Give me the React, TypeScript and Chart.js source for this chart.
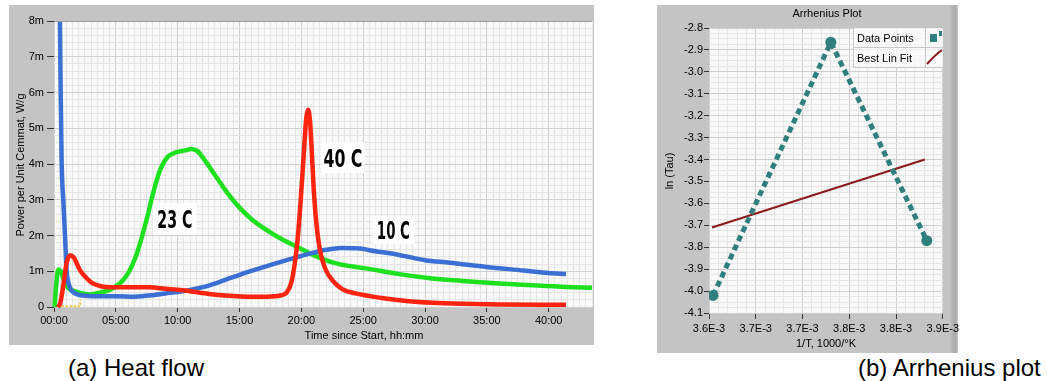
import React, { useEffect, useRef } from "react";
import { Chart, registerables } from "chart.js";
Chart.register(...registerables);

const FONT = '"Liberation Sans", Arial, sans-serif';

// ---------- (a) Heat flow ----------
const tenC_hours = [0.45, 0.48, 0.54, 0.62, 0.75, 0.89, 1.02, 1.15, 1.35, 1.7, 2.3, 3.5, 5.0, 6.5, 8.0, 9.0, 10.0, 11.0, 12.5, 14.0, 15.0, 17.0, 19.0, 20.0, 21.0, 22.0, 23.2, 24.5, 26.0, 28.0, 30.0, 32.0, 35.0, 38.0, 40.0, 41.4];
const tenC_power = [9.5, 8.0, 6.0, 4.0, 3.0, 2.0, 1.0, 0.7, 0.5, 0.38, 0.32, 0.3, 0.3, 0.29, 0.33, 0.38, 0.42, 0.48, 0.6, 0.78, 0.9, 1.12, 1.33, 1.43, 1.52, 1.6, 1.65, 1.64, 1.56, 1.45, 1.31, 1.24, 1.12, 1.02, 0.95, 0.92];

const twentyThreeC_hours = [0.05, 0.2, 0.35, 0.55, 0.8, 1.1, 1.6, 2.3, 3.0, 3.7, 4.5, 5.3, 6.0, 6.6, 7.1, 7.6, 8.1, 8.6, 9.2, 9.9, 10.6, 11.1, 11.6, 12.2, 13.0, 14.0, 15.0, 16.0, 17.2, 18.5, 19.8, 21.0, 22.5, 24.0, 25.2, 27.9, 30.6, 33.0, 36.0, 39.0, 41.4, 43.5];
const twentyThreeC_power = [0.0, 0.7, 1.05, 1.0, 0.75, 0.55, 0.45, 0.38, 0.35, 0.4, 0.48, 0.65, 0.95, 1.4, 1.95, 2.6, 3.3, 3.85, 4.2, 4.33, 4.38, 4.42, 4.36, 4.1, 3.7, 3.2, 2.78, 2.45, 2.15, 1.88, 1.66, 1.45, 1.25, 1.14, 1.08, 0.92, 0.8, 0.73, 0.66, 0.6, 0.56, 0.54];

const fortyC_hours = [0.3, 0.5, 0.75, 1.0, 1.3, 1.6, 2.1, 2.6, 3.1, 3.8, 4.5, 6.0, 7.7, 9.0, 10.4, 11.8, 13.1, 14.5, 15.8, 17.2, 18.3, 18.8, 19.2, 19.5, 19.7, 19.95, 20.2, 20.4, 20.55, 20.7, 20.85, 21.0, 21.2, 21.5, 21.9, 22.5, 23.3, 24.4, 26.5, 28.5, 30.6, 33.0, 36.0, 41.4];
const fortyC_power = [0.0, 0.1, 0.6, 1.2, 1.45, 1.38, 1.03, 0.82, 0.67, 0.58, 0.55, 0.55, 0.55, 0.51, 0.47, 0.4, 0.34, 0.31, 0.29, 0.29, 0.32, 0.4, 0.7, 1.3, 1.9, 3.0, 4.3, 5.3, 5.52, 5.2, 4.3, 3.3, 2.4, 1.6, 1.1, 0.75, 0.5, 0.38, 0.25, 0.17, 0.12, 0.09, 0.07, 0.06];

const baseline_hours = [0.3, 2.1, 2.15];
const baseline_power = [0.02, 0.02, 0.2];

const heatSeriesNames = ["10 C", "23 C", "40 C"];
const heatXTickLabels = ["00:00", "05:00", "10:00", "15:00", "20:00", "25:00", "30:00", "35:00", "40:00"];
const heatYTickLabels = ["0", "1m", "2m", "3m", "4m", "5m", "6m", "7m", "8m"];

// ---------- (b) Arrhenius plot ----------
const invT = [0.0036043, 0.0037303, 0.0038329];
const lnTau = [-4.02, -2.865, -3.77];
const fitInvT = [0.0036032, 0.0038308];
const fitLnTau = [-3.71, -3.4];
const arrLegendNames = ["Data Points", "Best Lin Fit"];
const arrXTickLabels = ["3.6E-3", "3.7E-3", "3.7E-3", "3.8E-3", "3.8E-3", "3.9E-3"];
const arrYTickLabels = ["-4.1", "-4.0", "-3.9", "-3.8", "-3.7", "-3.6", "-3.5", "-3.4", "-3.3", "-3.2", "-3.1", "-3.0", "-2.9", "-2.8"];

// ---------- styling ----------
const PANEL = "#c4c4c4";
const PLOT_BG = "#f9f9f9";
const GRID_MAJOR = "#cfcfcf";
const GRID_MINOR = "#e5e5e5";
const TICK_MARK = "#333333";

const pts = (xs: number[], ys: number[]) => xs.map((x, i) => ({ x, y: ys[i] }));

const ticksFrom = (min: number, max: number, step: number) => {
  const n = Math.round((max - min) / step);
  return Array.from({ length: n + 1 }, (_, i) => ({ value: +(min + i * step).toFixed(10) }));
};

const gridOpts = (every: number) => ({
  color: (c: any) => (c.index % every === 0 ? GRID_MAJOR : GRID_MINOR),
  tickColor: (c: any) => (c.index % every === 0 ? TICK_MARK : "rgba(0,0,0,0)"),
  lineWidth: 1,
  drawTicks: true,
});

const labelFrom = (labels: string[], every: number) => (_v: any, i: number) =>
  i % every === 0 ? labels[i / every] ?? "" : "";

function drawText(ctx: CanvasRenderingContext2D, text: string, x: number, y: number, rot = 0) {
  ctx.save();
  ctx.translate(x, y);
  if (rot) ctx.rotate(rot);
  ctx.font = `11px ${FONT}`;
  ctx.fillStyle = "#000";
  ctx.textAlign = "center";
  ctx.textBaseline = "middle";
  ctx.fillText(text, 0, 0);
  ctx.restore();
}

const backgroundPlugin = (panelWidth: number, shade: boolean) => ({
  id: "bg",
  beforeDraw(chart: any) {
    const { ctx, chartArea: a } = chart;
    ctx.save();
    ctx.fillStyle = PANEL;
    ctx.fillRect(0, 0, panelWidth, chart.height);
    if (shade) {
      const g = ctx.createLinearGradient(panelWidth - 9, 0, panelWidth, 0);
      g.addColorStop(0, PANEL);
      g.addColorStop(0.75, "#a9a9a9");
      g.addColorStop(1, "#cfcfcf");
      ctx.fillStyle = g;
      ctx.fillRect(panelWidth - 9, 0, 9, chart.height);
    }
    ctx.fillStyle = PLOT_BG;
    ctx.fillRect(a.left, a.top, a.right - a.left, a.bottom - a.top);
    ctx.restore();
  },
});

const heatDecor = {
  id: "heatDecor",
  afterDatasetsDraw(chart: any) {
    const { ctx, chartArea: a, scales } = chart;
    ctx.save();
    ctx.strokeStyle = "#9a9a9a";
    ctx.beginPath();
    ctx.moveTo(a.left, a.top + 0.5);
    ctx.lineTo(a.right, a.top + 0.5);
    ctx.stroke();
    ctx.restore();
    const notes = [
      { name: heatSeriesNames[1], x: 9.77, y: 2.46, boxW: 44, boxH: 32, textW: 35 },
      { name: heatSeriesNames[2], x: 23.36, y: 4.18, boxW: 43, boxH: 31, textW: 39 },
      { name: heatSeriesNames[0], x: 27.44, y: 2.15, boxW: 42, boxH: 28, textW: 33 },
    ];
    notes.forEach((n) => {
      const cx = scales.x.getPixelForValue(n.x);
      const cy = scales.y.getPixelForValue(n.y);
      ctx.save();
      ctx.fillStyle = "#ffffff";
      ctx.fillRect(cx - n.boxW / 2, cy - n.boxH / 2, n.boxW, n.boxH);
      ctx.font = `bold 25px "DejaVu Sans", sans-serif`;
      const m = ctx.measureText(n.name).width;
      ctx.translate(cx, cy + 9);
      ctx.scale(n.textW / m, 1);
      ctx.fillStyle = "#000";
      ctx.textAlign = "center";
      ctx.textBaseline = "alphabetic";
      ctx.fillText(n.name, 0, 0);
      ctx.restore();
    });
  },
  afterDraw(chart: any) {
    const { ctx } = chart;
    drawText(ctx, "Power per Unit Cemmat, W/g", 12, 160, -Math.PI / 2);
    drawText(ctx, "Time since Start, hh:mm", 355, 331);
  },
};

const arrDecor = {
  id: "arrDecor",
  afterDraw(chart: any) {
    const { ctx } = chart;
    drawText(ctx, "Arrhenius Plot", 170, 9);
    drawText(ctx, "ln (Tau)", 13, 166, -Math.PI / 2);
    drawText(ctx, "1/T, 1000/\u00B0K", 169, 339);

    // legend
    const L = 196, R = 286, T = 23, M = 42, B = 62, S = 268;
    ctx.save();
    ctx.fillStyle = "rgba(250,250,250,0.75)";
    ctx.fillRect(L, T, R - L, B - T);
    ctx.strokeStyle = "#c9c9c9";
    ctx.lineWidth = 1;
    ctx.beginPath();
    ctx.moveTo(L, M + 0.5); ctx.lineTo(R, M + 0.5);
    ctx.moveTo(L, B + 0.5); ctx.lineTo(R, B + 0.5);
    ctx.moveTo(S + 0.5, T); ctx.lineTo(S + 0.5, B);
    ctx.moveTo(L + 0.5, T); ctx.lineTo(L + 0.5, B);
    ctx.stroke();
    ctx.font = `11px ${FONT}`;
    ctx.fillStyle = "#000";
    ctx.textAlign = "left";
    ctx.textBaseline = "alphabetic";
    ctx.fillText(arrLegendNames[0], 200, 37);
    ctx.fillText(arrLegendNames[1], 200, 57);
    // icon 1: dashed thick teal
    ctx.save();
    ctx.beginPath();
    ctx.rect(S + 1, T + 1, R - S - 1, M - T - 1);
    ctx.clip();
    ctx.fillStyle = "#2f7f7f";
    ctx.fillRect(S + 5, T + 6, 7, 8);
    ctx.fillRect(S + 14, T + 3, 3, 5);
    ctx.restore();
    // icon 2: dark red line
    ctx.save();
    ctx.beginPath();
    ctx.rect(S + 1, M + 1, R - S - 1, B - M - 1);
    ctx.clip();
    ctx.strokeStyle = "#8b1a1a";
    ctx.lineWidth = 2;
    ctx.beginPath();
    ctx.moveTo(S + 2, B - 3);
    ctx.quadraticCurveTo(S + 10, M + 8, R - 1, M + 3);
    ctx.stroke();
    ctx.restore();
    ctx.restore();
  },
};

function heatConfig(): any {
  return {
    type: "line",
    data: {
      datasets: [
        { label: heatSeriesNames[2], data: pts(fortyC_hours, fortyC_power), borderColor: "#ff2410", borderWidth: 4.5 },
        { label: heatSeriesNames[0], data: pts(tenC_hours, tenC_power), borderColor: "#3b6fd3", borderWidth: 4.5 },
        { label: heatSeriesNames[1], data: pts(twentyThreeC_hours, twentyThreeC_power), borderColor: "#1fe01f", borderWidth: 4.5 },
        { label: "baseline", data: pts(baseline_hours, baseline_power), borderColor: "#f2c232", borderWidth: 2, borderDash: [2, 2], cubicInterpolationMode: "default", tension: 0 },
      ].map((d: any) => ({
        cubicInterpolationMode: "monotone",
        pointRadius: 0,
        fill: false,
        clip: { top: 0, left: 4, right: 4, bottom: 4 },
        ...d,
      })),
    },
    options: {
      animation: false,
      responsive: false,
      events: [],
      layout: { padding: { top: 16, right: 1, left: 0, bottom: 0 } },
      plugins: { legend: { display: false }, tooltip: { enabled: false }, title: { display: false } },
      scales: {
        x: {
          type: "linear",
          min: 0,
          max: 43.5,
          afterBuildTicks: (s: any) => { s.ticks = ticksFrom(0, 43.5, 0.5); },
          afterFit: (s: any) => { s.height = 38; },
          grid: { ...gridOpts(10), tickLength: 5 },
          border: { display: false },
          ticks: { autoSkip: false, maxRotation: 0, minRotation: 0, padding: 2, color: "#000", font: { family: FONT, size: 11 }, callback: labelFrom(heatXTickLabels, 10) },
        },
        y: {
          type: "linear",
          min: 0,
          max: 8,
          afterBuildTicks: (s: any) => { s.ticks = ticksFrom(0, 8, 0.2); },
          afterFit: (s: any) => { s.width = 45; },
          grid: { ...gridOpts(5), tickLength: 7 },
          border: { display: false },
          ticks: { autoSkip: false, padding: 3, color: "#000", font: { family: FONT, size: 11 }, callback: labelFrom(heatYTickLabels, 5) },
        },
      },
    },
    plugins: [backgroundPlugin(585, false), heatDecor],
  };
}

function arrConfig(): any {
  return {
    type: "line",
    data: {
      datasets: [
        {
          label: arrLegendNames[0],
          data: pts(invT, lnTau),
          borderColor: "#2f7f7f",
          borderWidth: 5,
          borderDash: [6, 4],
          borderCapStyle: "butt",
          pointRadius: 5.5,
          pointBackgroundColor: "#2f7f7f",
          pointBorderWidth: 0,
          tension: 0,
          fill: false,
        },
        {
          label: arrLegendNames[1],
          data: pts(fitInvT, fitLnTau),
          borderColor: "#8b1a1a",
          borderWidth: 2,
          pointRadius: 0,
          tension: 0,
          fill: false,
        },
      ],
    },
    options: {
      animation: false,
      responsive: false,
      events: [],
      layout: { padding: { top: 23, right: 19, left: 0, bottom: 0 } },
      plugins: { legend: { display: false }, tooltip: { enabled: false }, title: { display: false } },
      scales: {
        x: {
          type: "linear",
          min: 0.0036,
          max: 0.00385,
          afterBuildTicks: (s: any) => { s.ticks = ticksFrom(0.0036, 0.00385, 0.00001); },
          afterFit: (s: any) => { s.height = 40; },
          grid: { ...gridOpts(5), tickLength: 6 },
          border: { display: false },
          ticks: { autoSkip: false, maxRotation: 0, minRotation: 0, padding: 3, color: "#000", font: { family: FONT, size: 11 }, callback: labelFrom(arrXTickLabels, 5) },
        },
        y: {
          type: "linear",
          min: -4.1,
          max: -2.8,
          afterBuildTicks: (s: any) => { s.ticks = ticksFrom(-4.1, -2.8, 0.025); },
          afterFit: (s: any) => { s.width = 52; },
          grid: { ...gridOpts(4), tickLength: 5 },
          border: { display: false },
          ticks: { autoSkip: false, padding: 1, color: "#000", font: { family: FONT, size: 11 }, callback: labelFrom(arrYTickLabels, 4) },
        },
      },
    },
    plugins: [backgroundPlugin(301, true), arrDecor],
  };
}

export default function App() {
  const heatRef = useRef<HTMLCanvasElement>(null);
  const arrRef = useRef<HTMLCanvasElement>(null);
  useEffect(() => {
    const c1 = new Chart(heatRef.current as HTMLCanvasElement, heatConfig());
    const c2 = new Chart(arrRef.current as HTMLCanvasElement, arrConfig());
    return () => {
      c1.destroy();
      c2.destroy();
    };
  }, []);
  const caption: React.CSSProperties = {
    position: "absolute",
    top: 356,
    fontFamily: FONT,
    fontSize: 24,
    lineHeight: "24px",
    color: "#000",
    whiteSpace: "nowrap",
  };
  return (
    <div style={{ position: "absolute", left: 0, top: 0, width: 1047, height: 381, background: "#fff", overflow: "hidden" }}>
      <canvas ref={heatRef} width={585} height={340} style={{ position: "absolute", left: 9, top: 5, width: 585, height: 340 }} />
      <canvas ref={arrRef} width={305} height={348} style={{ position: "absolute", left: 657, top: 5, width: 305, height: 348 }} />
      <div style={{ ...caption, left: 68 }}>(a) Heat flow</div>
      <div style={{ ...caption, left: 858 }}>(b) Arrhenius plot</div>
    </div>
  );
}
